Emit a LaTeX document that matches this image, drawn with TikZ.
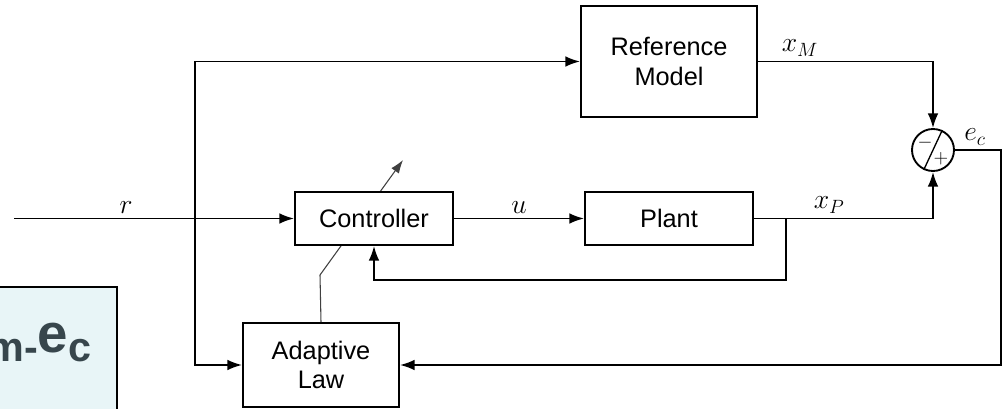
\documentclass[tikz,border=0pt]{standalone}
\usepackage{fontspec}
\setmainfont{Liberation Sans}
\usepackage{amsmath}
\usetikzlibrary{arrows.meta,calc}
\definecolor{notefill}{RGB}{232,245,247}
\definecolor{notetext}{RGB}{55,70,76}

\begin{document}
\begin{tikzpicture}[x=0.75pt, y=-0.75pt,
		block/.style={draw, line width=1.4pt, fill=white, align=center, font=\fontsize{19}{22}\selectfont},
		wire/.style={line width=1.4pt, -{Latex[length=11pt, width=8pt]}},
		lbl/.style={font=\fontsize{20}{24}\selectfont}]
		\useasboundingbox (0, 0) rectangle (1003, 409);
		\fill[notefill] (-10, 287) rectangle (117, 420);
		\draw[line width=1.4pt] (-10, 287) -- (117, 287) -- (117, 420);
		\node[anchor=base west, text=notetext, inner sep=0pt] (note) at (-13, 362)
			{\bfseries\fontsize{31}{34}\selectfont m-\raisebox{7pt}{\fontsize{41}{44}\selectfont e}c};
		\node[block, minimum width=117pt, minimum height=63pt] (adapt) at (321, 365) {Adaptive\\Law};
		\coordinate (kink) at (320, 275);
		\coordinate (tune) at (403, 160);
		\draw[line width=0.8pt, draw=black!75] (adapt.north) -- (kink);
		\draw[line width=0.8pt, draw=black!75, -{Latex[length=10pt, width=7pt]}] (kink) -- (tune);
		\node[block, minimum width=118.5pt, minimum height=39.75pt] (ctrl) at (374, 218.5) {Controller};
		\node[block, minimum width=126pt, minimum height=39.75pt] (plant) at (669, 218.5) {Plant};
		\node[block, minimum width=132pt, minimum height=83pt] (ref) at (669, 61.5) {Reference\\Model};
		\node[draw, circle, line width=1.4pt, minimum size=31.5pt, inner sep=0pt] (sum) at (933, 150) {};
		\draw[line width=1pt] (sum.245) -- (sum.65);
		\node[font=\fontsize{15}{15}\selectfont, inner sep=0pt] at (925, 143) {$-$};
		\node[font=\fontsize{15}{15}\selectfont, inner sep=0pt] at (941, 159) {$+$};
		\coordinate (rin) at (14, 218.5);
		\coordinate (rbr) at (195, 218.5);
		\coordinate (xpbr) at (786, 218.5);
		\coordinate (fb) at (786, 280);
		\coordinate (ecr) at (1001, 150);
		\draw[wire] (rin) -- (ctrl.west) node[lbl, pos=0.4, above] {$r$};
		\draw[wire] (rbr) |- (ref.west);
		\draw[wire] (rbr) |- (adapt.west);
		\draw[wire] (ctrl.east) -- (plant.west) node[lbl, midway, above] {$u$};
		\draw[wire] (plant.east) -| (sum.south) node[lbl, pos=0.21, above] {$x_P$};
		\draw[wire] (xpbr) -- (fb) -| (ctrl.south);
		\draw[wire] (ref.east) -| (sum.north) node[lbl, pos=0.12, above] {$x_M$};
		\draw[wire] (sum.east) -- (ecr) |- (adapt.east);
		\node[lbl] at (975, 137) {$e_c$};
	\end{tikzpicture}
\end{document}
